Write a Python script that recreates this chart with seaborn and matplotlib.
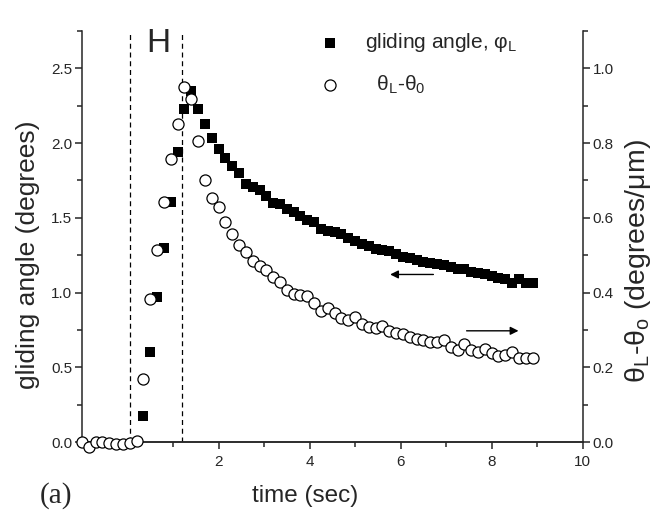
import numpy as np
import matplotlib
matplotlib.use("Agg")
import matplotlib.pyplot as plt
from matplotlib.ticker import FormatStrFormatter
import seaborn as sns

sns.set_style("ticks")
plt.rcParams["font.family"] = ["Liberation Sans", "DejaVu Sans"]
plt.rcParams["mathtext.fontset"] = "custom"
plt.rcParams["mathtext.rm"] = "Liberation Sans"

# time grid (sec), shared by both series
time = [-1.0, -0.85, -0.7, -0.55, -0.4, -0.25, -0.1, 0.05, 0.2, 0.35,
        0.5, 0.65, 0.8, 0.95, 1.1, 1.25, 1.4, 1.55, 1.7, 1.85,
        2.0, 2.15, 2.3, 2.45, 2.6, 2.75, 2.9, 3.05, 3.2, 3.35,
        3.5, 3.65, 3.8, 3.95, 4.1, 4.25, 4.4, 4.55, 4.7, 4.85,
        5.0, 5.15, 5.3, 5.45, 5.6, 5.75, 5.9, 6.05, 6.2, 6.35,
        6.5, 6.65, 6.8, 6.95, 7.1, 7.25, 7.4, 7.55, 7.7, 7.85,
        8.0, 8.15, 8.3, 8.45, 8.6, 8.75, 8.9]

# theta_L - theta_0 (degrees/um), right axis
theta = [0.0, -0.013, 0.0, 0.0, -0.003, -0.005, -0.005, -0.003, 0.003, 0.169,
         0.382, 0.515, 0.642, 0.757, 0.852, 0.950, 0.919, 0.806, 0.700, 0.654,
         0.629, 0.588, 0.556, 0.527, 0.509, 0.485, 0.472, 0.460, 0.442, 0.429,
         0.406, 0.397, 0.393, 0.390, 0.372, 0.351, 0.359, 0.344, 0.332, 0.326,
         0.335, 0.315, 0.308, 0.305, 0.310, 0.297, 0.291, 0.290, 0.280, 0.277,
         0.273, 0.268, 0.268, 0.273, 0.254, 0.246, 0.262, 0.246, 0.241, 0.248,
         0.237, 0.231, 0.233, 0.241, 0.226, 0.224, 0.224]

# gliding angle phi_L (degrees), left axis, starts at t = 0.35 s
phi_start = 9
phi = [0.174, 0.600, 0.967, 1.299, 1.606, 1.940, 2.231, 2.346, 2.231, 2.130,
       2.037, 1.959, 1.900, 1.847, 1.803, 1.725, 1.707, 1.684, 1.646, 1.600,
       1.591, 1.561, 1.537, 1.514, 1.487, 1.471, 1.426, 1.410, 1.402, 1.390,
       1.364, 1.345, 1.324, 1.312, 1.294, 1.283, 1.277, 1.261, 1.240, 1.228,
       1.217, 1.207, 1.199, 1.190, 1.184, 1.173, 1.159, 1.155, 1.140, 1.132,
       1.123, 1.110, 1.100, 1.088, 1.063, 1.093, 1.067, 1.067]

field_on, field_off = 0.06, 1.2

fig = plt.figure(figsize=(6.65, 5.16), dpi=100)
ax = fig.add_axes([0.1233, 0.1434, 0.7529, 0.7965])
ax2 = ax.twinx()

sns.scatterplot(x=time[phi_start:], y=phi, ax=ax, marker="s", s=46, color="black",
                edgecolor="black", linewidth=0, clip_on=False, zorder=3,
                label="gliding angle, φ$_\\mathregular{L}$")
sns.scatterplot(x=time, y=theta, ax=ax2, marker="o", s=64, color="white",
                edgecolor="black", linewidth=0.9, clip_on=False, zorder=3,
                label="\u00a0\u00a0θ$_\\mathregular{L}$-θ$_\\mathregular{0}$")

for t in (field_on, field_off):
    ax.axvline(t, color="black", lw=0.9, ls=(0, (4, 3)))

ax.text(0.42, 2.61, "H", fontsize=24, va="baseline", ha="left")

arrow = dict(arrowstyle="-|>", color="black", lw=1, mutation_scale=12,
             shrinkA=0, shrinkB=0)
ax.annotate("", xy=(5.77, 1.121), xytext=(6.72, 1.121), arrowprops=arrow)
ax.annotate("", xy=(8.59, 0.744), xytext=(7.45, 0.744), arrowprops=arrow)

ax.set_xlim(-1, 10)
ax.set_ylim(0, 2.75)
ax2.set_ylim(0, 1.1)

ax.set_xticks([2, 4, 6, 8, 10])
ax.set_xticks([0, 1, 3, 5, 7, 9], minor=True)
ax.set_yticks(np.arange(0, 2.51, 0.5))
ax.set_yticks(np.arange(0.25, 2.76, 0.5), minor=True)
ax2.set_yticks(np.arange(0, 1.01, 0.2))
ax2.set_yticks(np.arange(0.1, 1.11, 0.2), minor=True)
ax.yaxis.set_major_formatter(FormatStrFormatter("%.1f"))
ax2.yaxis.set_major_formatter(FormatStrFormatter("%.1f"))

for a in (ax, ax2):
    a.spines["top"].set_visible(False)
    for s in a.spines.values():
        s.set_linewidth(1.1)
    a.tick_params(which="both", direction="out", width=1.1, labelsize=11, pad=2)
    a.tick_params(which="major", length=5)
    a.tick_params(which="minor", length=3.5)
ax.tick_params(axis="x", pad=4)
ax.spines["right"].set_visible(False)
ax2.spines["left"].set_visible(False)

ax.set_xlabel("time (sec)", fontsize=17.5)
ax.xaxis.set_label_coords(0.445, -0.105)
ax.set_ylabel("gliding angle (degrees)", fontsize=19)
ax.yaxis.set_label_coords(-0.083, 0.455)
ax2.set_ylabel("θ$_\\mathregular{L}$-θ$_\\mathregular{o}$ (degrees/μm)", fontsize=20.5,
               rotation=90)
ax2.yaxis.set_label_coords(1.08, 0.44)

h1, l1 = ax.get_legend_handles_labels()
h2, l2 = ax2.get_legend_handles_labels()
ax.get_legend().remove()
ax2.get_legend().remove()
ax2.legend(h1 + h2, l1 + l2, loc="upper left", bbox_to_anchor=(0.4745, 1.0),
           frameon=False, fontsize=15, handlelength=1.0, handletextpad=1.2,
           borderpad=0, borderaxespad=0, labelspacing=0.95)

fig.text(0.06, 0.025, "(a)", fontsize=21, family="Liberation Serif")

fig.savefig("out.png", dpi=100)
